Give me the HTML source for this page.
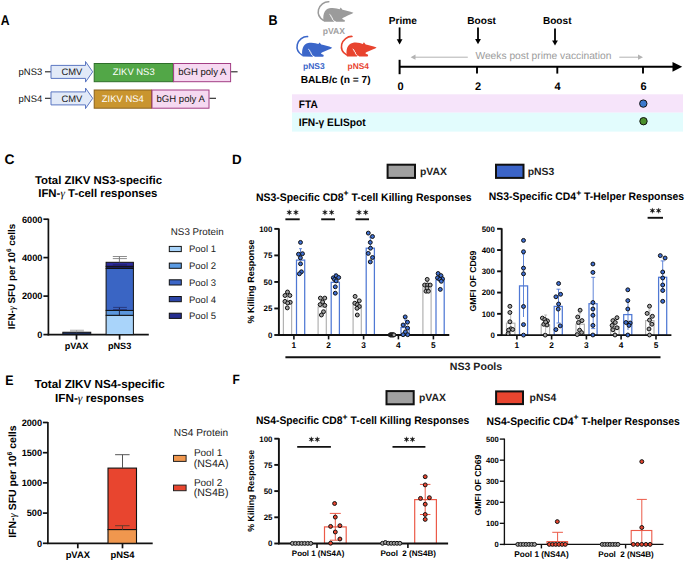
<!DOCTYPE html><html><head><meta charset="utf-8"><style>html,body{margin:0;padding:0;background:#fff;}svg{display:block;font-family:"Liberation Sans",sans-serif;text-rendering:geometricPrecision;}</style></head><body>
<svg width="685" height="561" viewBox="0 0 685 561">
<rect x="283.4" y="301.5" width="8.20" height="33.50" fill="#fff" stroke="#b2b2b2" stroke-width="1.2"/>
<rect x="296.5" y="260.1" width="8.20" height="74.90" fill="#fff" stroke="#4f78d4" stroke-width="1.25"/>
<rect x="318.1" y="307.0" width="8.20" height="28.00" fill="#fff" stroke="#b2b2b2" stroke-width="1.2"/>
<rect x="331.20000000000005" y="282.3" width="8.20" height="52.70" fill="#fff" stroke="#4f78d4" stroke-width="1.25"/>
<rect x="353.1" y="305.0" width="8.20" height="30.00" fill="#fff" stroke="#b2b2b2" stroke-width="1.2"/>
<rect x="366.20000000000005" y="248.2" width="8.20" height="86.80" fill="#fff" stroke="#4f78d4" stroke-width="1.25"/>
<rect x="401.0" y="327.5" width="8.20" height="7.50" fill="#fff" stroke="#4f78d4" stroke-width="1.25"/>
<rect x="422.9" y="284.4" width="8.20" height="50.60" fill="#fff" stroke="#b2b2b2" stroke-width="1.2"/>
<rect x="436.0" y="280.0" width="8.20" height="55.00" fill="#fff" stroke="#4f78d4" stroke-width="1.25"/>
<rect x="506.5" y="323.2" width="8.40" height="11.90" fill="#fff" stroke="#b2b2b2" stroke-width="1.2"/>
<rect x="519.5" y="285.9" width="8.10" height="49.20" fill="#fff" stroke="#4f78d4" stroke-width="1.25"/>
<rect x="541.2" y="324.9" width="8.40" height="10.20" fill="#fff" stroke="#b2b2b2" stroke-width="1.2"/>
<rect x="554.2" y="306.4" width="8.10" height="28.70" fill="#fff" stroke="#4f78d4" stroke-width="1.25"/>
<rect x="576.0" y="324.2" width="8.40" height="10.90" fill="#fff" stroke="#b2b2b2" stroke-width="1.2"/>
<rect x="589.0" y="303.7" width="8.10" height="31.40" fill="#fff" stroke="#4f78d4" stroke-width="1.25"/>
<rect x="610.7" y="326.6" width="8.40" height="8.50" fill="#fff" stroke="#b2b2b2" stroke-width="1.2"/>
<rect x="623.7" y="314.6" width="8.10" height="20.50" fill="#fff" stroke="#4f78d4" stroke-width="1.25"/>
<rect x="645.6" y="320.6" width="8.40" height="14.50" fill="#fff" stroke="#b2b2b2" stroke-width="1.2"/>
<rect x="658.6" y="277.3" width="8.10" height="57.80" fill="#fff" stroke="#4f78d4" stroke-width="1.25"/>
<rect x="324.5" y="526.9" width="21.70" height="16.60" fill="#fff" stroke="#ec5a48" stroke-width="1.2"/>
<rect x="414.7" y="499.6" width="21.70" height="43.90" fill="#fff" stroke="#ec5a48" stroke-width="1.2"/>
<rect x="547.0" y="541.6" width="20.60" height="2.80" fill="#fff" stroke="#ec5a48" stroke-width="1.1"/>
<rect x="631.2" y="530.5" width="20.60" height="13.90" fill="#fff" stroke="#ec5a48" stroke-width="1.1"/>
<text x="0.7" y="24.8" font-size="14.2" font-weight="bold" transform="translate(0.7 24.8) scale(0.86 1) translate(-0.7 -24.8)">A</text>
<text x="268.5" y="25.4" font-size="14.2" font-weight="bold" transform="translate(268.5 25.4) scale(0.88 1) translate(-268.5 -25.4)">B</text>
<text x="4.4" y="163.9" font-size="13.8" font-weight="bold" transform="translate(4.4 163.9) scale(1.0 1) translate(-4.4 -163.9)">C</text>
<text x="231.9" y="163.9" font-size="13.6" font-weight="bold" transform="translate(231.9 163.9) scale(0.98 1) translate(-231.9 -163.9)">D</text>
<text x="5.3" y="384.7" font-size="13.8" font-weight="bold" transform="translate(5.3 384.7) scale(0.9 1) translate(-5.3 -384.7)">E</text>
<text x="232.4" y="384.3" font-size="13.6" font-weight="bold" transform="translate(232.4 384.3) scale(0.88 1) translate(-232.4 -384.3)">F</text>
<text x="18.6" y="75.39999999999999" font-size="9.45" fill="#111" text-anchor="start" >pNS3</text>
<line x1="45" y1="71.8" x2="51" y2="71.8" stroke="#222" stroke-width="1.1"/>
<path d="M51 65.39999999999999 H85.5 V61.5 L92.7 71.8 L85.5 82.1 V78.39999999999999 H51 Z" fill="#e2eaf8" stroke="#5b77c2" stroke-width="1"/>
<text x="71.9" y="75.2" font-size="9.4" fill="#151515" text-anchor="middle" >CMV</text>
<rect x="94.2" y="63.5" width="79" height="18.2" fill="#52a747" stroke="#2e6e2a" stroke-width="1"/>
<text x="133.7" y="75.3" font-size="9.45" fill="#fff" text-anchor="middle" >ZIKV NS3</text>
<rect x="173.6" y="63.5" width="57" height="18.2" fill="#f6d9f1" stroke="#a23d84" stroke-width="1"/>
<text x="202.29999999999998" y="75.3" font-size="9.55" fill="#151515" text-anchor="middle" >bGH poly A</text>
<line x1="231.1" y1="71.8" x2="237.6" y2="71.8" stroke="#222" stroke-width="1.1"/>
<text x="18.6" y="101.89999999999999" font-size="9.45" fill="#111" text-anchor="start" >pNS4</text>
<line x1="45" y1="98.3" x2="51" y2="98.3" stroke="#222" stroke-width="1.1"/>
<path d="M51 91.89999999999999 H85.5 V88.0 L92.7 98.3 L85.5 108.6 V104.89999999999999 H51 Z" fill="#e2eaf8" stroke="#5b77c2" stroke-width="1"/>
<text x="71.9" y="101.7" font-size="9.4" fill="#151515" text-anchor="middle" >CMV</text>
<rect x="94.2" y="90.0" width="57.3" height="18.2" fill="#c9952f" stroke="#8a611c" stroke-width="1"/>
<text x="122.85" y="101.8" font-size="9.45" fill="#fff" text-anchor="middle" >ZIKV NS4</text>
<rect x="152" y="90.0" width="57" height="18.2" fill="#f6d9f1" stroke="#a23d84" stroke-width="1"/>
<text x="180.7" y="101.8" font-size="9.55" fill="#151515" text-anchor="middle" >bGH poly A</text>
<line x1="209.5" y1="98.3" x2="216" y2="98.3" stroke="#222" stroke-width="1.1"/>
<g transform="translate(313.2 -2.85)"><path d="M15.6 4.6 C11 4.4 6.6 7.8 5.3 12.5 C4.4 16.5 5.9 20.6 10.2 23.1" fill="none" stroke="#9b9b9b" stroke-width="1.55" stroke-linecap="round"/><path d="M10.6 24.6 C9.9 22.8 9.8 18.5 10.8 16 C11.8 13.2 14 11.5 16.1 11.1 C18.5 10.5 21.5 10.7 23.5 11.3 L26.4 12.1 L27.5 10.4 L29.3 12.6 C32 13.2 36.5 14 40.2 15.7 C38.8 16.9 35.3 18.2 32.2 19.5 C30.5 20.2 29.2 20.8 28.9 21.3 C29.2 22.2 30.6 22.4 31.3 22.8 C31.9 23.2 31.9 24.3 31.1 24.7 L22.9 24.7 L21.6 23.7 L20.4 24.7 Z" fill="#9b9b9b"/><path d="M16.3 17.2 L17.6 18.2 L17.9 19.7 L18.9 20.4 L19.2 22 L20.9 23.8" fill="none" stroke="#fff" stroke-width="0.95"/></g>
<g transform="translate(292 32)"><path d="M15.6 4.6 C11 4.4 6.6 7.8 5.3 12.5 C4.4 16.5 5.9 20.6 10.2 23.1" fill="none" stroke="#3b66c9" stroke-width="1.55" stroke-linecap="round"/><path d="M10.6 24.6 C9.9 22.8 9.8 18.5 10.8 16 C11.8 13.2 14 11.5 16.1 11.1 C18.5 10.5 21.5 10.7 23.5 11.3 L26.4 12.1 L27.5 10.4 L29.3 12.6 C32 13.2 36.5 14 40.2 15.7 C38.8 16.9 35.3 18.2 32.2 19.5 C30.5 20.2 29.2 20.8 28.9 21.3 C29.2 22.2 30.6 22.4 31.3 22.8 C31.9 23.2 31.9 24.3 31.1 24.7 L22.9 24.7 L21.6 23.7 L20.4 24.7 Z" fill="#3b66c9"/><path d="M16.3 17.2 L17.6 18.2 L17.9 19.7 L18.9 20.4 L19.2 22 L20.9 23.8" fill="none" stroke="#fff" stroke-width="0.95"/></g>
<g transform="translate(336.4 31.8)"><path d="M15.6 4.6 C11 4.4 6.6 7.8 5.3 12.5 C4.4 16.5 5.9 20.6 10.2 23.1" fill="none" stroke="#e8432e" stroke-width="1.55" stroke-linecap="round"/><path d="M10.6 24.6 C9.9 22.8 9.8 18.5 10.8 16 C11.8 13.2 14 11.5 16.1 11.1 C18.5 10.5 21.5 10.7 23.5 11.3 L26.4 12.1 L27.5 10.4 L29.3 12.6 C32 13.2 36.5 14 40.2 15.7 C38.8 16.9 35.3 18.2 32.2 19.5 C30.5 20.2 29.2 20.8 28.9 21.3 C29.2 22.2 30.6 22.4 31.3 22.8 C31.9 23.2 31.9 24.3 31.1 24.7 L22.9 24.7 L21.6 23.7 L20.4 24.7 Z" fill="#e8432e"/><path d="M16.3 17.2 L17.6 18.2 L17.9 19.7 L18.9 20.4 L19.2 22 L20.9 23.8" fill="none" stroke="#fff" stroke-width="0.95"/></g>
<text x="333.8" y="33.7" font-size="8.6" font-weight="bold" fill="#a0a0a0" text-anchor="middle" >pVAX</text>
<text x="313.9" y="68.6" font-size="8.5" font-weight="bold" fill="#3b66c9" text-anchor="middle" >pNS3</text>
<text x="358.3" y="68.8" font-size="8.4" font-weight="bold" fill="#e8432e" text-anchor="middle" >pNS4</text>
<text x="335.6" y="83.4" font-size="10.2" font-weight="bold" fill="#000" text-anchor="middle" >BALB/c (n = 7)</text>
<rect x="292" y="94.3" width="391" height="18.4" fill="#f6e4fa"/>
<rect x="292" y="112.7" width="391" height="18.9" fill="#e2fcfd"/>
<text x="298.8" y="107.6" font-size="10.1" font-weight="bold" fill="#000" text-anchor="start" transform="translate(298.8 107.6) scale(1 1.08) translate(-298.8 -107.6)">FTA</text>
<text x="298.8" y="125.9" font-size="10.2" font-weight="bold" fill="#000" text-anchor="start" transform="translate(298.8 125.9) scale(1 1.06) translate(-298.8 -125.9)">IFN-γ ELISpot</text>
<circle cx="643.3" cy="103.6" r="3.7" fill="#3b78cc" stroke="#111" stroke-width="1"/>
<circle cx="643.5" cy="121.2" r="3.7" fill="#4b8f2c" stroke="#111" stroke-width="1"/>
<line x1="399.6" y1="66.8" x2="674" y2="66.8" stroke="#000" stroke-width="2.1"/>
<polygon points="672.5,61.9 682.2,66.8 672.5,71.7" fill="#000"/>
<line x1="399.6" y1="59.8" x2="399.6" y2="74.2" stroke="#000" stroke-width="2"/>
<line x1="477" y1="66.8" x2="477" y2="73.6" stroke="#000" stroke-width="1.9"/>
<line x1="557.3" y1="66.8" x2="557.3" y2="73.6" stroke="#000" stroke-width="1.9"/>
<line x1="643" y1="66.8" x2="643" y2="73.6" stroke="#000" stroke-width="1.9"/>
<text x="400.6" y="89.5" font-size="11" font-weight="bold" fill="#000" text-anchor="middle" >0</text>
<text x="478" y="89.5" font-size="11" font-weight="bold" fill="#000" text-anchor="middle" >2</text>
<text x="557.6" y="89.5" font-size="11" font-weight="bold" fill="#000" text-anchor="middle" >4</text>
<text x="643.5" y="89.5" font-size="11" font-weight="bold" fill="#000" text-anchor="middle" >6</text>
<text x="388.8" y="23.8" font-size="10.1" font-weight="bold" fill="#000" text-anchor="start" >Prime</text>
<text x="467.3" y="23.8" font-size="10.1" font-weight="bold" fill="#000" text-anchor="start" >Boost</text>
<text x="542.9" y="23.8" font-size="10.1" font-weight="bold" fill="#000" text-anchor="start" >Boost</text>
<line x1="399.6" y1="27.4" x2="399.6" y2="40.4" stroke="#000" stroke-width="1.8"/>
<polygon points="396.70000000000005,39.199999999999996 402.5,39.199999999999996 399.6,44.4" fill="#000"/>
<line x1="478" y1="27.4" x2="478" y2="40.2" stroke="#000" stroke-width="1.8"/>
<polygon points="475.1,39.0 480.9,39.0 478,44.2" fill="#000"/>
<line x1="555" y1="28.6" x2="555" y2="41.6" stroke="#000" stroke-width="1.8"/>
<polygon points="552.1,40.4 557.9,40.4 555,45.6" fill="#000"/>
<line x1="467.8" y1="57.2" x2="414" y2="57.2" stroke="#b3b3b3" stroke-width="1"/>
<polygon points="415.5,54.6 410.6,57.2 415.5,59.8" fill="#b3b3b3"/>
<line x1="619.3" y1="57.2" x2="639" y2="57.2" stroke="#b3b3b3" stroke-width="1"/>
<polygon points="638,54.6 643,57.2 638,59.8" fill="#b3b3b3"/>
<text x="475.4" y="58.6" font-size="10.25" fill="#9c9c9c" text-anchor="start" >Weeks post prime vaccination</text>
<text x="98.5" y="183.9" font-size="11.4" font-weight="bold" fill="#000" text-anchor="middle" >Total ZIKV NS3-specific</text>
<text x="97.8" y="197.2" font-size="11.4" font-weight="bold" fill="#000" text-anchor="middle" >IFN-<tspan font-family="Liberation Serif" font-style="italic" font-weight="normal">γ</tspan> T-cell responses</text>
<line x1="48.4" y1="218.7" x2="48.4" y2="335.40000000000003" stroke="#111" stroke-width="1.7"/>
<line x1="47.6" y1="334.6" x2="148.8" y2="334.6" stroke="#111" stroke-width="1.7"/>
<line x1="43.4" y1="219.2" x2="48.4" y2="219.2" stroke="#111" stroke-width="1.7"/>
<text x="42.4" y="222.512" font-size="9.2" font-weight="bold" fill="#000" text-anchor="end" >6000</text>
<line x1="43.4" y1="257.6" x2="48.4" y2="257.6" stroke="#111" stroke-width="1.7"/>
<text x="42.4" y="260.91200000000003" font-size="9.2" font-weight="bold" fill="#000" text-anchor="end" >4000</text>
<line x1="43.4" y1="296.1" x2="48.4" y2="296.1" stroke="#111" stroke-width="1.7"/>
<text x="42.4" y="299.41200000000003" font-size="9.2" font-weight="bold" fill="#000" text-anchor="end" >2000</text>
<line x1="43.4" y1="334.6" x2="48.4" y2="334.6" stroke="#111" stroke-width="1.7"/>
<text x="42.4" y="337.91200000000003" font-size="9.2" font-weight="bold" fill="#000" text-anchor="end" >0</text>
<line x1="76.5" y1="334.6" x2="76.5" y2="339.6" stroke="#111" stroke-width="1.7"/>
<line x1="119.6" y1="334.6" x2="119.6" y2="339.6" stroke="#111" stroke-width="1.7"/>
<text x="76.5" y="348.7" font-size="9.1" font-weight="bold" fill="#000" text-anchor="middle" >pVAX</text>
<text x="119.6" y="348.7" font-size="9.1" font-weight="bold" fill="#000" text-anchor="middle" >pNS3</text>
<text x="0" y="0" font-size="9.85" font-weight="bold" text-anchor="middle" transform="translate(14.8 276.5) rotate(-90)">IFN-<tspan font-family="Liberation Serif" font-style="italic" font-weight="normal">γ</tspan> SFU per 10<tspan dy="-3.5" font-size="6.5">6</tspan><tspan dy="3.5"> cells</tspan></text>
<rect x="62.8" y="332.2" width="28" height="2.4" fill="#1c2c55" stroke="#111" stroke-width="0.9"/>
<line x1="70" y1="330.2" x2="83.9" y2="330.2" stroke="#9a9a9a" stroke-width="0.7"/>
<line x1="70" y1="331.2" x2="83.9" y2="331.2" stroke="#9a9a9a" stroke-width="0.7"/>
<line x1="76.5" y1="330.2" x2="76.5" y2="332.2" stroke="#9a9a9a" stroke-width="0.8"/>
<rect x="106.1" y="315.3" width="27.3" height="19.30" fill="#a9d4fa" stroke="#111" stroke-width="1"/>
<rect x="106.1" y="310.4" width="27.3" height="4.90" fill="#5b97de" stroke="#111" stroke-width="1"/>
<rect x="106.1" y="268.4" width="27.3" height="42.00" fill="#3a65c4" stroke="#111" stroke-width="1"/>
<rect x="106.1" y="266.3" width="27.3" height="2.10" fill="#1b1f5e" stroke="#111" stroke-width="1"/>
<rect x="106.1" y="262.3" width="27.3" height="4.00" fill="#2c2b9c" stroke="#111" stroke-width="1"/>
<line x1="119.4" y1="256.5" x2="119.4" y2="262.3" stroke="#666" stroke-width="0.9"/>
<line x1="112.8" y1="256.5" x2="126.9" y2="256.5" stroke="#7a7a7a" stroke-width="0.85"/>
<line x1="112.8" y1="258.6" x2="126.9" y2="258.6" stroke="#7a7a7a" stroke-width="0.85"/>
<line x1="112.8" y1="264.5" x2="126.9" y2="264.5" stroke="#1e1e6a" stroke-width="0.7"/>
<line x1="112.8" y1="265.6" x2="126.9" y2="265.6" stroke="#1e1e6a" stroke-width="0.7"/>
<line x1="119.4" y1="307.4" x2="119.4" y2="315.2" stroke="#1a1a3a" stroke-width="0.9"/>
<line x1="113.1" y1="307.4" x2="126.9" y2="307.4" stroke="#243070" stroke-width="0.8"/>
<line x1="113.1" y1="309.5" x2="126.9" y2="309.5" stroke="#243070" stroke-width="0.8"/>
<text x="170.8" y="235.3" font-size="9.8" fill="#222" text-anchor="start" >NS3 Protein</text>
<rect x="169.3" y="246.4" width="12" height="5.2" fill="#a9d4fa" stroke="#111" stroke-width="1"/>
<text x="189" y="252.4" font-size="9.5" fill="#222" text-anchor="start" >Pool 1</text>
<rect x="169.3" y="263.1" width="12" height="5.2" fill="#5b9be3" stroke="#111" stroke-width="1"/>
<text x="189" y="269.09999999999997" font-size="9.5" fill="#222" text-anchor="start" >Pool 2</text>
<rect x="169.3" y="279.8" width="12" height="5.2" fill="#3c66c7" stroke="#111" stroke-width="1"/>
<text x="189" y="285.79999999999995" font-size="9.5" fill="#222" text-anchor="start" >Pool 3</text>
<rect x="169.3" y="296.5" width="12" height="5.2" fill="#2c45a6" stroke="#111" stroke-width="1"/>
<text x="189" y="302.5" font-size="9.5" fill="#222" text-anchor="start" >Pool 4</text>
<rect x="169.3" y="313.2" width="12" height="5.2" fill="#262e90" stroke="#111" stroke-width="1"/>
<text x="189" y="319.2" font-size="9.5" fill="#222" text-anchor="start" >Pool 5</text>
<text x="99.6" y="387.9" font-size="11.7" font-weight="bold" fill="#000" text-anchor="middle" >Total ZIKV NS4-specific</text>
<text x="99.6" y="402.3" font-size="11.7" font-weight="bold" fill="#000" text-anchor="middle" >IFN-<tspan font-family="Liberation Serif" font-style="italic" font-weight="normal">γ</tspan> responses</text>
<line x1="47.9" y1="422.0" x2="47.9" y2="544.0999999999999" stroke="#111" stroke-width="1.7"/>
<line x1="47.1" y1="543.3" x2="152.7" y2="543.3" stroke="#111" stroke-width="1.7"/>
<line x1="42.9" y1="422.5" x2="47.9" y2="422.5" stroke="#111" stroke-width="1.7"/>
<text x="42.1" y="425.812" font-size="9.2" font-weight="bold" fill="#000" text-anchor="end" >2000</text>
<line x1="42.9" y1="452.7" x2="47.9" y2="452.7" stroke="#111" stroke-width="1.7"/>
<text x="42.1" y="456.012" font-size="9.2" font-weight="bold" fill="#000" text-anchor="end" >1500</text>
<line x1="42.9" y1="482.9" x2="47.9" y2="482.9" stroke="#111" stroke-width="1.7"/>
<text x="42.1" y="486.212" font-size="9.2" font-weight="bold" fill="#000" text-anchor="end" >1000</text>
<line x1="42.9" y1="513.1" x2="47.9" y2="513.1" stroke="#111" stroke-width="1.7"/>
<text x="42.1" y="516.412" font-size="9.2" font-weight="bold" fill="#000" text-anchor="end" >500</text>
<line x1="42.9" y1="543.3" x2="47.9" y2="543.3" stroke="#111" stroke-width="1.7"/>
<text x="42.1" y="546.612" font-size="9.2" font-weight="bold" fill="#000" text-anchor="end" >0</text>
<line x1="77.8" y1="543.3" x2="77.8" y2="548.3" stroke="#111" stroke-width="1.7"/>
<line x1="122.5" y1="543.3" x2="122.5" y2="548.3" stroke="#111" stroke-width="1.7"/>
<text x="77.8" y="558.3" font-size="9.4" font-weight="bold" fill="#000" text-anchor="middle" >pVAX</text>
<text x="122.5" y="558.3" font-size="9.4" font-weight="bold" fill="#000" text-anchor="middle" >pNS4</text>
<text x="0" y="0" font-size="10.5" font-weight="bold" text-anchor="middle" transform="translate(15.5 481.6) rotate(-90)">IFN-<tspan font-family="Liberation Serif" font-style="italic" font-weight="normal">γ</tspan> SFU per 10<tspan dy="-3.7" font-size="6.8">6</tspan><tspan dy="3.7"> cells</tspan></text>
<rect x="108" y="468.1" width="28.5" height="61.5" fill="#e8452f" stroke="#111" stroke-width="1.1"/>
<rect x="108" y="529.6" width="28.5" height="13.7" fill="#f0974e" stroke="#111" stroke-width="1.1"/>
<line x1="122.5" y1="454.7" x2="122.5" y2="468.1" stroke="#555" stroke-width="1"/>
<line x1="115.1" y1="454.7" x2="129.6" y2="454.7" stroke="#555" stroke-width="1"/>
<line x1="122.5" y1="525.7" x2="122.5" y2="529.6" stroke="#6b3a2a" stroke-width="1"/>
<line x1="115.1" y1="525.7" x2="129.6" y2="525.7" stroke="#6b3a2a" stroke-width="1"/>
<text x="173.8" y="436.4" font-size="10.1" fill="#222" text-anchor="start" >NS4 Protein</text>
<rect x="173.5" y="455.4" width="12.6" height="6" fill="#f0974e" stroke="#222" stroke-width="1"/>
<rect x="173.5" y="485.1" width="12.6" height="5.6" fill="#e8452f" stroke="#222" stroke-width="1"/>
<text x="193.9" y="455.7" font-size="10" fill="#222" text-anchor="start" >Pool 1</text>
<text x="193.7" y="467.0" font-size="10.6" fill="#222" text-anchor="start" >(NS4A)</text>
<text x="193.9" y="485.6" font-size="10" fill="#222" text-anchor="start" >Pool 2</text>
<text x="193.7" y="496.4" font-size="10.6" fill="#222" text-anchor="start" >(NS4B)</text>
<rect x="387.6" y="164.7" width="27.399999999999977" height="13.200000000000017" fill="#a0a0a0" stroke="#111" stroke-width="2"/>
<text x="420" y="174.6" font-size="10.4" font-weight="bold" fill="#222" text-anchor="start" >pVAX</text>
<rect x="496" y="164.7" width="27.5" height="13.200000000000017" fill="#3b64c8" stroke="#111" stroke-width="2"/>
<text x="527.7" y="174.6" font-size="10.4" font-weight="bold" fill="#222" text-anchor="start" >pNS3</text>
<text x="256" y="200.5" font-size="10.45" font-weight="bold" transform="translate(256 200.5) scale(1 1.06) translate(-256 -200.5)">NS3-Specific CD8<tspan dy="-4.3" font-size="8.6">+</tspan><tspan dy="4.3"> T-cell Killing Responses</tspan></text>
<text x="488.8" y="200.4" font-size="10.42" font-weight="bold" transform="translate(488.8 200.4) scale(1 1.06) translate(-488.8 -200.4)">NS3-Specific CD4<tspan dy="-4.3" font-size="8.6">+</tspan><tspan dy="4.3"> T-Helper Responses</tspan></text>
<line x1="278.9" y1="228.38" x2="278.9" y2="335.8" stroke="#111" stroke-width="1.9"/>
<line x1="278.09999999999997" y1="335.0" x2="449.3" y2="335.0" stroke="#111" stroke-width="1.9"/>
<line x1="274.29999999999995" y1="228.88" x2="278.9" y2="228.88" stroke="#111" stroke-width="1.9"/>
<text x="272.29999999999995" y="231.724" font-size="7.9" font-weight="bold" fill="#000" text-anchor="end" >100</text>
<line x1="274.29999999999995" y1="255.41000000000003" x2="278.9" y2="255.41000000000003" stroke="#111" stroke-width="1.9"/>
<text x="272.29999999999995" y="258.254" font-size="7.9" font-weight="bold" fill="#000" text-anchor="end" >75</text>
<line x1="274.29999999999995" y1="281.94" x2="278.9" y2="281.94" stroke="#111" stroke-width="1.9"/>
<text x="272.29999999999995" y="284.784" font-size="7.9" font-weight="bold" fill="#000" text-anchor="end" >50</text>
<line x1="274.29999999999995" y1="308.47" x2="278.9" y2="308.47" stroke="#111" stroke-width="1.9"/>
<text x="272.29999999999995" y="311.314" font-size="7.9" font-weight="bold" fill="#000" text-anchor="end" >25</text>
<line x1="274.29999999999995" y1="335.0" x2="278.9" y2="335.0" stroke="#111" stroke-width="1.9"/>
<text x="272.29999999999995" y="337.844" font-size="7.9" font-weight="bold" fill="#000" text-anchor="end" >0</text>
<line x1="293.9" y1="335.0" x2="293.9" y2="339.4" stroke="#111" stroke-width="1.6"/>
<text x="293.9" y="348.2" font-size="8.3" font-weight="bold" fill="#000" text-anchor="middle" >1</text>
<line x1="328.6" y1="335.0" x2="328.6" y2="339.4" stroke="#111" stroke-width="1.6"/>
<text x="328.6" y="348.2" font-size="8.3" font-weight="bold" fill="#000" text-anchor="middle" >2</text>
<line x1="363.6" y1="335.0" x2="363.6" y2="339.4" stroke="#111" stroke-width="1.6"/>
<text x="363.6" y="348.2" font-size="8.3" font-weight="bold" fill="#000" text-anchor="middle" >3</text>
<line x1="398.4" y1="335.0" x2="398.4" y2="339.4" stroke="#111" stroke-width="1.6"/>
<text x="398.4" y="348.2" font-size="8.3" font-weight="bold" fill="#000" text-anchor="middle" >4</text>
<line x1="433.4" y1="335.0" x2="433.4" y2="339.4" stroke="#111" stroke-width="1.6"/>
<text x="433.4" y="348.2" font-size="8.3" font-weight="bold" fill="#000" text-anchor="middle" >5</text>
<text x="0" y="0" font-size="9.05" font-weight="bold" text-anchor="middle" transform="translate(253.7 281.6) rotate(-90)">% Killing Response</text>
<line x1="300.5" y1="248.7" x2="300.5" y2="260.1" stroke="#4f78d4" stroke-width="0.9"/>
<line x1="299.0" y1="248.7" x2="302.0" y2="248.7" stroke="#4f78d4" stroke-width="0.9"/>
<line x1="335.4" y1="274.0" x2="335.4" y2="282.3" stroke="#4f78d4" stroke-width="0.9"/>
<line x1="333.9" y1="274.0" x2="336.9" y2="274.0" stroke="#4f78d4" stroke-width="0.9"/>
<line x1="370.4" y1="237.0" x2="370.4" y2="248.2" stroke="#4f78d4" stroke-width="0.9"/>
<line x1="368.9" y1="237.0" x2="371.9" y2="237.0" stroke="#4f78d4" stroke-width="0.9"/>
<line x1="405.5" y1="320.0" x2="405.5" y2="327.5" stroke="#4f78d4" stroke-width="0.9"/>
<line x1="404.0" y1="320.0" x2="407.0" y2="320.0" stroke="#4f78d4" stroke-width="0.9"/>
<line x1="440.3" y1="276.0" x2="440.3" y2="280.0" stroke="#4f78d4" stroke-width="0.9"/>
<line x1="438.8" y1="276.0" x2="441.8" y2="276.0" stroke="#4f78d4" stroke-width="0.9"/>
<line x1="287.6" y1="296.0" x2="287.6" y2="301.5" stroke="#b2b2b2" stroke-width="0.9"/>
<line x1="286.1" y1="296.0" x2="289.1" y2="296.0" stroke="#b2b2b2" stroke-width="0.9"/>
<line x1="322.7" y1="300.0" x2="322.7" y2="307.0" stroke="#b2b2b2" stroke-width="0.9"/>
<line x1="321.2" y1="300.0" x2="324.2" y2="300.0" stroke="#b2b2b2" stroke-width="0.9"/>
<line x1="357.5" y1="299.0" x2="357.5" y2="305.0" stroke="#b2b2b2" stroke-width="0.9"/>
<line x1="356.0" y1="299.0" x2="359.0" y2="299.0" stroke="#b2b2b2" stroke-width="0.9"/>
<line x1="427.2" y1="281.5" x2="427.2" y2="284.4" stroke="#b2b2b2" stroke-width="0.9"/>
<line x1="425.7" y1="281.5" x2="428.7" y2="281.5" stroke="#b2b2b2" stroke-width="0.9"/>
<circle cx="287.5" cy="292.0" r="1.95" fill="#a3a3a3" stroke="#111" stroke-width="1.0"/>
<circle cx="285.0" cy="295.5" r="1.95" fill="#a3a3a3" stroke="#111" stroke-width="1.0"/>
<circle cx="289.9" cy="295.5" r="1.95" fill="#a3a3a3" stroke="#111" stroke-width="1.0"/>
<circle cx="285.0" cy="301.4" r="1.95" fill="#a3a3a3" stroke="#111" stroke-width="1.0"/>
<circle cx="290.2" cy="302.3" r="1.95" fill="#a3a3a3" stroke="#111" stroke-width="1.0"/>
<circle cx="287.7" cy="303.0" r="1.95" fill="#a3a3a3" stroke="#111" stroke-width="1.0"/>
<circle cx="287.3" cy="307.9" r="1.95" fill="#a3a3a3" stroke="#111" stroke-width="1.0"/>
<circle cx="320.4" cy="298.1" r="1.95" fill="#a3a3a3" stroke="#111" stroke-width="1.0"/>
<circle cx="324.8" cy="298.1" r="1.95" fill="#a3a3a3" stroke="#111" stroke-width="1.0"/>
<circle cx="322.6" cy="302.0" r="1.95" fill="#a3a3a3" stroke="#111" stroke-width="1.0"/>
<circle cx="320.1" cy="304.6" r="1.95" fill="#a3a3a3" stroke="#111" stroke-width="1.0"/>
<circle cx="324.8" cy="305.4" r="1.95" fill="#a3a3a3" stroke="#111" stroke-width="1.0"/>
<circle cx="323.5" cy="311.7" r="1.95" fill="#a3a3a3" stroke="#111" stroke-width="1.0"/>
<circle cx="321.4" cy="315.0" r="1.95" fill="#a3a3a3" stroke="#111" stroke-width="1.0"/>
<circle cx="355.1" cy="296.4" r="1.95" fill="#a3a3a3" stroke="#111" stroke-width="1.0"/>
<circle cx="359.3" cy="300.8" r="1.95" fill="#a3a3a3" stroke="#111" stroke-width="1.0"/>
<circle cx="354.8" cy="303.2" r="1.95" fill="#a3a3a3" stroke="#111" stroke-width="1.0"/>
<circle cx="357.3" cy="304.6" r="1.95" fill="#a3a3a3" stroke="#111" stroke-width="1.0"/>
<circle cx="359.3" cy="306.6" r="1.95" fill="#a3a3a3" stroke="#111" stroke-width="1.0"/>
<circle cx="357.0" cy="308.3" r="1.95" fill="#a3a3a3" stroke="#111" stroke-width="1.0"/>
<circle cx="357.3" cy="315.0" r="1.95" fill="#a3a3a3" stroke="#111" stroke-width="1.0"/>
<circle cx="390.2" cy="334.9" r="1.95" fill="#a3a3a3" stroke="#111" stroke-width="1.0"/>
<circle cx="390.8" cy="334.9" r="1.95" fill="#a3a3a3" stroke="#111" stroke-width="1.0"/>
<circle cx="391.5" cy="334.9" r="1.95" fill="#a3a3a3" stroke="#111" stroke-width="1.0"/>
<circle cx="392.1" cy="334.9" r="1.95" fill="#a3a3a3" stroke="#111" stroke-width="1.0"/>
<circle cx="392.7" cy="334.9" r="1.95" fill="#a3a3a3" stroke="#111" stroke-width="1.0"/>
<circle cx="393.3" cy="334.9" r="1.95" fill="#a3a3a3" stroke="#111" stroke-width="1.0"/>
<circle cx="394.0" cy="334.9" r="1.95" fill="#a3a3a3" stroke="#111" stroke-width="1.0"/>
<circle cx="427.2" cy="279.4" r="1.95" fill="#a3a3a3" stroke="#111" stroke-width="1.0"/>
<circle cx="424.7" cy="285.0" r="1.95" fill="#a3a3a3" stroke="#111" stroke-width="1.0"/>
<circle cx="427.6" cy="285.0" r="1.95" fill="#a3a3a3" stroke="#111" stroke-width="1.0"/>
<circle cx="430.2" cy="285.0" r="1.95" fill="#a3a3a3" stroke="#111" stroke-width="1.0"/>
<circle cx="426.0" cy="291.2" r="1.95" fill="#a3a3a3" stroke="#111" stroke-width="1.0"/>
<circle cx="428.4" cy="291.2" r="1.95" fill="#a3a3a3" stroke="#111" stroke-width="1.0"/>
<circle cx="427.0" cy="288.0" r="1.95" fill="#a3a3a3" stroke="#111" stroke-width="1.0"/>
<circle cx="300.5" cy="242.4" r="1.95" fill="#3f6fd2" stroke="#111" stroke-width="1.0"/>
<circle cx="298.5" cy="254.2" r="1.95" fill="#3f6fd2" stroke="#111" stroke-width="1.0"/>
<circle cx="302.5" cy="253.7" r="1.95" fill="#3f6fd2" stroke="#111" stroke-width="1.0"/>
<circle cx="300.4" cy="257.8" r="1.95" fill="#3f6fd2" stroke="#111" stroke-width="1.0"/>
<circle cx="300.5" cy="263.8" r="1.95" fill="#3f6fd2" stroke="#111" stroke-width="1.0"/>
<circle cx="301.4" cy="271.8" r="1.95" fill="#3f6fd2" stroke="#111" stroke-width="1.0"/>
<circle cx="299.4" cy="273.8" r="1.95" fill="#3f6fd2" stroke="#111" stroke-width="1.0"/>
<circle cx="333.3" cy="277.8" r="1.95" fill="#3f6fd2" stroke="#111" stroke-width="1.0"/>
<circle cx="336.2" cy="275.8" r="1.95" fill="#3f6fd2" stroke="#111" stroke-width="1.0"/>
<circle cx="338.7" cy="277.5" r="1.95" fill="#3f6fd2" stroke="#111" stroke-width="1.0"/>
<circle cx="334.5" cy="279.5" r="1.95" fill="#3f6fd2" stroke="#111" stroke-width="1.0"/>
<circle cx="336.2" cy="280.9" r="1.95" fill="#3f6fd2" stroke="#111" stroke-width="1.0"/>
<circle cx="335.3" cy="286.8" r="1.95" fill="#3f6fd2" stroke="#111" stroke-width="1.0"/>
<circle cx="335.3" cy="293.2" r="1.95" fill="#3f6fd2" stroke="#111" stroke-width="1.0"/>
<circle cx="368.3" cy="233.1" r="1.95" fill="#3f6fd2" stroke="#111" stroke-width="1.0"/>
<circle cx="372.5" cy="236.5" r="1.95" fill="#3f6fd2" stroke="#111" stroke-width="1.0"/>
<circle cx="370.3" cy="242.4" r="1.95" fill="#3f6fd2" stroke="#111" stroke-width="1.0"/>
<circle cx="370.5" cy="248.2" r="1.95" fill="#3f6fd2" stroke="#111" stroke-width="1.0"/>
<circle cx="368.3" cy="253.4" r="1.95" fill="#3f6fd2" stroke="#111" stroke-width="1.0"/>
<circle cx="372.5" cy="257.5" r="1.95" fill="#3f6fd2" stroke="#111" stroke-width="1.0"/>
<circle cx="370.3" cy="261.9" r="1.95" fill="#3f6fd2" stroke="#111" stroke-width="1.0"/>
<circle cx="405.2" cy="316.9" r="1.95" fill="#3f6fd2" stroke="#111" stroke-width="1.0"/>
<circle cx="407.5" cy="322.2" r="1.95" fill="#3f6fd2" stroke="#111" stroke-width="1.0"/>
<circle cx="403.1" cy="325.0" r="1.95" fill="#3f6fd2" stroke="#111" stroke-width="1.0"/>
<circle cx="407.5" cy="328.1" r="1.95" fill="#3f6fd2" stroke="#111" stroke-width="1.0"/>
<circle cx="405.4" cy="331.9" r="1.95" fill="#3f6fd2" stroke="#111" stroke-width="1.0"/>
<circle cx="403.1" cy="334.7" r="1.95" fill="#3f6fd2" stroke="#111" stroke-width="1.0"/>
<circle cx="407.7" cy="334.7" r="1.95" fill="#3f6fd2" stroke="#111" stroke-width="1.0"/>
<circle cx="438.1" cy="273.5" r="1.95" fill="#3f6fd2" stroke="#111" stroke-width="1.0"/>
<circle cx="441.0" cy="275.6" r="1.95" fill="#3f6fd2" stroke="#111" stroke-width="1.0"/>
<circle cx="437.5" cy="277.8" r="1.95" fill="#3f6fd2" stroke="#111" stroke-width="1.0"/>
<circle cx="442.5" cy="278.8" r="1.95" fill="#3f6fd2" stroke="#111" stroke-width="1.0"/>
<circle cx="439.8" cy="279.4" r="1.95" fill="#3f6fd2" stroke="#111" stroke-width="1.0"/>
<circle cx="441.3" cy="281.3" r="1.95" fill="#3f6fd2" stroke="#111" stroke-width="1.0"/>
<circle cx="440.3" cy="289.4" r="1.95" fill="#3f6fd2" stroke="#111" stroke-width="1.0"/>
<polygon points="289.25,209.75 288.75,211.58 286.91,211.10 288.25,212.45 286.91,213.80 288.75,213.32 289.25,215.15 289.75,213.32 291.59,213.80 290.25,212.45 291.59,211.10 289.75,211.58" fill="#111" stroke="#111" stroke-width="0.35" stroke-linejoin="round"/>
<polygon points="295.95,209.75 295.45,211.58 293.61,211.10 294.95,212.45 293.61,213.80 295.45,213.32 295.95,215.15 296.45,213.32 298.29,213.80 296.95,212.45 298.29,211.10 296.45,211.58" fill="#111" stroke="#111" stroke-width="0.35" stroke-linejoin="round"/>
<line x1="285.4" y1="219.3" x2="299.7" y2="219.3" stroke="#111" stroke-width="1.9"/>
<polygon points="324.95,209.75 324.45,211.58 322.61,211.10 323.95,212.45 322.61,213.80 324.45,213.32 324.95,215.15 325.45,213.32 327.29,213.80 325.95,212.45 327.29,211.10 325.45,211.58" fill="#111" stroke="#111" stroke-width="0.35" stroke-linejoin="round"/>
<polygon points="331.65,209.75 331.15,211.58 329.31,211.10 330.65,212.45 329.31,213.80 331.15,213.32 331.65,215.15 332.15,213.32 333.99,213.80 332.65,212.45 333.99,211.10 332.15,211.58" fill="#111" stroke="#111" stroke-width="0.35" stroke-linejoin="round"/>
<line x1="321.2" y1="219.3" x2="335.0" y2="219.3" stroke="#111" stroke-width="1.9"/>
<polygon points="359.05,209.75 358.55,211.58 356.71,211.10 358.05,212.45 356.71,213.80 358.55,213.32 359.05,215.15 359.55,213.32 361.39,213.80 360.05,212.45 361.39,211.10 359.55,211.58" fill="#111" stroke="#111" stroke-width="0.35" stroke-linejoin="round"/>
<polygon points="365.75,209.75 365.25,211.58 363.41,211.10 364.75,212.45 363.41,213.80 365.25,213.32 365.75,215.15 366.25,213.32 368.09,213.80 366.75,212.45 368.09,211.10 366.25,211.58" fill="#111" stroke="#111" stroke-width="0.35" stroke-linejoin="round"/>
<line x1="355.5" y1="219.3" x2="369.0" y2="219.3" stroke="#111" stroke-width="1.9"/>
<line x1="501.7" y1="228.3" x2="501.7" y2="335.90000000000003" stroke="#111" stroke-width="1.9"/>
<line x1="500.9" y1="335.1" x2="671.4" y2="335.1" stroke="#111" stroke-width="1.9"/>
<line x1="497.09999999999997" y1="228.8" x2="501.7" y2="228.8" stroke="#111" stroke-width="1.9"/>
<text x="494.9" y="231.644" font-size="7.9" font-weight="bold" fill="#000" text-anchor="end" >500</text>
<line x1="497.09999999999997" y1="250.06" x2="501.7" y2="250.06" stroke="#111" stroke-width="1.9"/>
<text x="494.9" y="252.904" font-size="7.9" font-weight="bold" fill="#000" text-anchor="end" >400</text>
<line x1="497.09999999999997" y1="271.32000000000005" x2="501.7" y2="271.32000000000005" stroke="#111" stroke-width="1.9"/>
<text x="494.9" y="274.16400000000004" font-size="7.9" font-weight="bold" fill="#000" text-anchor="end" >300</text>
<line x1="497.09999999999997" y1="292.58000000000004" x2="501.7" y2="292.58000000000004" stroke="#111" stroke-width="1.9"/>
<text x="494.9" y="295.42400000000004" font-size="7.9" font-weight="bold" fill="#000" text-anchor="end" >200</text>
<line x1="497.09999999999997" y1="313.84000000000003" x2="501.7" y2="313.84000000000003" stroke="#111" stroke-width="1.9"/>
<text x="494.9" y="316.684" font-size="7.9" font-weight="bold" fill="#000" text-anchor="end" >100</text>
<line x1="497.09999999999997" y1="335.1" x2="501.7" y2="335.1" stroke="#111" stroke-width="1.9"/>
<text x="494.9" y="337.944" font-size="7.9" font-weight="bold" fill="#000" text-anchor="end" >0</text>
<line x1="516.9" y1="335.1" x2="516.9" y2="339.5" stroke="#111" stroke-width="1.6"/>
<text x="516.9" y="348.2" font-size="8.3" font-weight="bold" fill="#000" text-anchor="middle" >1</text>
<line x1="551.6" y1="335.1" x2="551.6" y2="339.5" stroke="#111" stroke-width="1.6"/>
<text x="551.6" y="348.2" font-size="8.3" font-weight="bold" fill="#000" text-anchor="middle" >2</text>
<line x1="586.4" y1="335.1" x2="586.4" y2="339.5" stroke="#111" stroke-width="1.6"/>
<text x="586.4" y="348.2" font-size="8.3" font-weight="bold" fill="#000" text-anchor="middle" >3</text>
<line x1="621.1" y1="335.1" x2="621.1" y2="339.5" stroke="#111" stroke-width="1.6"/>
<text x="621.1" y="348.2" font-size="8.3" font-weight="bold" fill="#000" text-anchor="middle" >4</text>
<line x1="656.0" y1="335.1" x2="656.0" y2="339.5" stroke="#111" stroke-width="1.6"/>
<text x="656.0" y="348.2" font-size="8.3" font-weight="bold" fill="#000" text-anchor="middle" >5</text>
<text x="0" y="0" font-size="8.7" font-weight="bold" text-anchor="middle" transform="translate(475.8 281.0) rotate(-90)">GMFI OF CD69</text>
<line x1="523.5" y1="254.0" x2="523.5" y2="317.0" stroke="#4f78d4" stroke-width="0.9"/>
<line x1="522.0" y1="254.0" x2="525.0" y2="254.0" stroke="#4f78d4" stroke-width="0.9"/>
<line x1="558.5" y1="289.2" x2="558.5" y2="323.0" stroke="#4f78d4" stroke-width="0.9"/>
<line x1="556.5" y1="289.2" x2="560.5" y2="289.2" stroke="#4f78d4" stroke-width="0.9"/>
<line x1="556.5" y1="323.0" x2="560.5" y2="323.0" stroke="#4f78d4" stroke-width="0.9"/>
<line x1="593.2" y1="277.3" x2="593.2" y2="328.6" stroke="#4f78d4" stroke-width="0.9"/>
<line x1="591.2" y1="277.3" x2="595.2" y2="277.3" stroke="#4f78d4" stroke-width="0.9"/>
<line x1="591.2" y1="328.6" x2="595.2" y2="328.6" stroke="#4f78d4" stroke-width="0.9"/>
<line x1="628.0" y1="302.0" x2="628.0" y2="330.0" stroke="#4f78d4" stroke-width="0.9"/>
<line x1="662.7" y1="260.9" x2="662.7" y2="293.0" stroke="#4f78d4" stroke-width="0.9"/>
<line x1="660.7" y1="260.9" x2="664.7" y2="260.9" stroke="#4f78d4" stroke-width="0.9"/>
<line x1="510.7" y1="312.0" x2="510.7" y2="333.0" stroke="#b2b2b2" stroke-width="0.9"/>
<line x1="509.2" y1="312.0" x2="512.2" y2="312.0" stroke="#b2b2b2" stroke-width="0.9"/>
<line x1="545.6" y1="315.0" x2="545.6" y2="332.0" stroke="#b2b2b2" stroke-width="0.9"/>
<line x1="544.1" y1="315.0" x2="547.1" y2="315.0" stroke="#b2b2b2" stroke-width="0.9"/>
<line x1="579.8" y1="313.0" x2="579.8" y2="333.0" stroke="#b2b2b2" stroke-width="0.9"/>
<line x1="578.3" y1="313.0" x2="581.3" y2="313.0" stroke="#b2b2b2" stroke-width="0.9"/>
<line x1="614.9" y1="318.0" x2="614.9" y2="333.0" stroke="#b2b2b2" stroke-width="0.9"/>
<line x1="613.4" y1="318.0" x2="616.4" y2="318.0" stroke="#b2b2b2" stroke-width="0.9"/>
<line x1="649.7" y1="310.0" x2="649.7" y2="330.0" stroke="#b2b2b2" stroke-width="0.9"/>
<line x1="648.2" y1="310.0" x2="651.2" y2="310.0" stroke="#b2b2b2" stroke-width="0.9"/>
<circle cx="509.9" cy="306.3" r="1.95" fill="#a3a3a3" stroke="#111" stroke-width="1.0"/>
<circle cx="509.9" cy="312.5" r="1.95" fill="#a3a3a3" stroke="#111" stroke-width="1.0"/>
<circle cx="509.9" cy="321.8" r="1.95" fill="#a3a3a3" stroke="#111" stroke-width="1.0"/>
<circle cx="510.9" cy="328.8" r="1.95" fill="#a3a3a3" stroke="#111" stroke-width="1.0"/>
<circle cx="512.7" cy="329.5" r="1.95" fill="#a3a3a3" stroke="#111" stroke-width="1.0"/>
<circle cx="508.6" cy="330.1" r="1.95" fill="#a3a3a3" stroke="#111" stroke-width="1.0"/>
<circle cx="508.1" cy="333.6" r="1.95" fill="#a3a3a3" stroke="#111" stroke-width="1.0"/>
<circle cx="542.4" cy="318.1" r="1.95" fill="#a3a3a3" stroke="#111" stroke-width="1.0"/>
<circle cx="544.7" cy="319.5" r="1.95" fill="#a3a3a3" stroke="#111" stroke-width="1.0"/>
<circle cx="547.5" cy="320.9" r="1.95" fill="#a3a3a3" stroke="#111" stroke-width="1.0"/>
<circle cx="543.8" cy="324.3" r="1.95" fill="#a3a3a3" stroke="#111" stroke-width="1.0"/>
<circle cx="547.0" cy="325.0" r="1.95" fill="#a3a3a3" stroke="#111" stroke-width="1.0"/>
<circle cx="545.6" cy="322.0" r="1.95" fill="#a3a3a3" stroke="#111" stroke-width="1.0"/>
<circle cx="545.2" cy="335.1" r="1.95" fill="#a3a3a3" stroke="#111" stroke-width="1.0"/>
<circle cx="580.1" cy="310.2" r="1.95" fill="#a3a3a3" stroke="#111" stroke-width="1.0"/>
<circle cx="577.7" cy="317.0" r="1.95" fill="#a3a3a3" stroke="#111" stroke-width="1.0"/>
<circle cx="582.0" cy="320.6" r="1.95" fill="#a3a3a3" stroke="#111" stroke-width="1.0"/>
<circle cx="578.5" cy="322.5" r="1.95" fill="#a3a3a3" stroke="#111" stroke-width="1.0"/>
<circle cx="579.6" cy="330.2" r="1.95" fill="#a3a3a3" stroke="#111" stroke-width="1.0"/>
<circle cx="581.6" cy="332.6" r="1.95" fill="#a3a3a3" stroke="#111" stroke-width="1.0"/>
<circle cx="577.2" cy="334.6" r="1.95" fill="#a3a3a3" stroke="#111" stroke-width="1.0"/>
<circle cx="617.0" cy="317.7" r="1.95" fill="#a3a3a3" stroke="#111" stroke-width="1.0"/>
<circle cx="612.9" cy="320.6" r="1.95" fill="#a3a3a3" stroke="#111" stroke-width="1.0"/>
<circle cx="615.3" cy="322.5" r="1.95" fill="#a3a3a3" stroke="#111" stroke-width="1.0"/>
<circle cx="612.1" cy="325.4" r="1.95" fill="#a3a3a3" stroke="#111" stroke-width="1.0"/>
<circle cx="617.0" cy="327.8" r="1.95" fill="#a3a3a3" stroke="#111" stroke-width="1.0"/>
<circle cx="612.9" cy="329.8" r="1.95" fill="#a3a3a3" stroke="#111" stroke-width="1.0"/>
<circle cx="615.0" cy="335.0" r="1.95" fill="#a3a3a3" stroke="#111" stroke-width="1.0"/>
<circle cx="649.5" cy="306.2" r="1.95" fill="#a3a3a3" stroke="#111" stroke-width="1.0"/>
<circle cx="647.1" cy="313.4" r="1.95" fill="#a3a3a3" stroke="#111" stroke-width="1.0"/>
<circle cx="652.4" cy="316.3" r="1.95" fill="#a3a3a3" stroke="#111" stroke-width="1.0"/>
<circle cx="649.5" cy="320.1" r="1.95" fill="#a3a3a3" stroke="#111" stroke-width="1.0"/>
<circle cx="651.9" cy="324.2" r="1.95" fill="#a3a3a3" stroke="#111" stroke-width="1.0"/>
<circle cx="649.0" cy="329.0" r="1.95" fill="#a3a3a3" stroke="#111" stroke-width="1.0"/>
<circle cx="649.5" cy="335.0" r="1.95" fill="#a3a3a3" stroke="#111" stroke-width="1.0"/>
<circle cx="523.5" cy="240.4" r="1.95" fill="#3f6fd2" stroke="#111" stroke-width="1.0"/>
<circle cx="523.5" cy="251.7" r="1.95" fill="#3f6fd2" stroke="#111" stroke-width="1.0"/>
<circle cx="523.5" cy="268.1" r="1.95" fill="#3f6fd2" stroke="#111" stroke-width="1.0"/>
<circle cx="523.5" cy="273.8" r="1.95" fill="#3f6fd2" stroke="#111" stroke-width="1.0"/>
<circle cx="523.5" cy="306.5" r="1.95" fill="#3f6fd2" stroke="#111" stroke-width="1.0"/>
<circle cx="523.5" cy="324.6" r="1.95" fill="#3f6fd2" stroke="#111" stroke-width="1.0"/>
<circle cx="523.5" cy="335.1" r="1.95" fill="#3f6fd2" stroke="#111" stroke-width="1.0"/>
<circle cx="558.6" cy="283.5" r="1.95" fill="#3f6fd2" stroke="#111" stroke-width="1.0"/>
<circle cx="555.9" cy="296.8" r="1.95" fill="#3f6fd2" stroke="#111" stroke-width="1.0"/>
<circle cx="560.6" cy="294.3" r="1.95" fill="#3f6fd2" stroke="#111" stroke-width="1.0"/>
<circle cx="558.6" cy="304.0" r="1.95" fill="#3f6fd2" stroke="#111" stroke-width="1.0"/>
<circle cx="558.2" cy="309.1" r="1.95" fill="#3f6fd2" stroke="#111" stroke-width="1.0"/>
<circle cx="560.2" cy="325.9" r="1.95" fill="#3f6fd2" stroke="#111" stroke-width="1.0"/>
<circle cx="555.9" cy="329.6" r="1.95" fill="#3f6fd2" stroke="#111" stroke-width="1.0"/>
<circle cx="592.9" cy="264.0" r="1.95" fill="#3f6fd2" stroke="#111" stroke-width="1.0"/>
<circle cx="592.9" cy="272.4" r="1.95" fill="#3f6fd2" stroke="#111" stroke-width="1.0"/>
<circle cx="592.9" cy="302.5" r="1.95" fill="#3f6fd2" stroke="#111" stroke-width="1.0"/>
<circle cx="592.9" cy="309.0" r="1.95" fill="#3f6fd2" stroke="#111" stroke-width="1.0"/>
<circle cx="592.9" cy="315.3" r="1.95" fill="#3f6fd2" stroke="#111" stroke-width="1.0"/>
<circle cx="592.9" cy="325.4" r="1.95" fill="#3f6fd2" stroke="#111" stroke-width="1.0"/>
<circle cx="592.9" cy="335.0" r="1.95" fill="#3f6fd2" stroke="#111" stroke-width="1.0"/>
<circle cx="627.8" cy="289.8" r="1.95" fill="#3f6fd2" stroke="#111" stroke-width="1.0"/>
<circle cx="627.8" cy="300.6" r="1.95" fill="#3f6fd2" stroke="#111" stroke-width="1.0"/>
<circle cx="627.8" cy="309.0" r="1.95" fill="#3f6fd2" stroke="#111" stroke-width="1.0"/>
<circle cx="625.9" cy="322.5" r="1.95" fill="#3f6fd2" stroke="#111" stroke-width="1.0"/>
<circle cx="630.2" cy="323.0" r="1.95" fill="#3f6fd2" stroke="#111" stroke-width="1.0"/>
<circle cx="629.0" cy="325.4" r="1.95" fill="#3f6fd2" stroke="#111" stroke-width="1.0"/>
<circle cx="627.8" cy="335.0" r="1.95" fill="#3f6fd2" stroke="#111" stroke-width="1.0"/>
<circle cx="660.3" cy="255.6" r="1.95" fill="#3f6fd2" stroke="#111" stroke-width="1.0"/>
<circle cx="665.1" cy="258.0" r="1.95" fill="#3f6fd2" stroke="#111" stroke-width="1.0"/>
<circle cx="662.7" cy="272.0" r="1.95" fill="#3f6fd2" stroke="#111" stroke-width="1.0"/>
<circle cx="662.7" cy="278.0" r="1.95" fill="#3f6fd2" stroke="#111" stroke-width="1.0"/>
<circle cx="662.7" cy="285.0" r="1.95" fill="#3f6fd2" stroke="#111" stroke-width="1.0"/>
<circle cx="662.7" cy="290.5" r="1.95" fill="#3f6fd2" stroke="#111" stroke-width="1.0"/>
<circle cx="662.7" cy="301.3" r="1.95" fill="#3f6fd2" stroke="#111" stroke-width="1.0"/>
<polygon points="652.40,207.95 651.90,209.78 650.06,209.30 651.40,210.65 650.06,212.00 651.90,211.52 652.40,213.35 652.90,211.52 654.74,212.00 653.40,210.65 654.74,209.30 652.90,209.78" fill="#111" stroke="#111" stroke-width="0.35" stroke-linejoin="round"/>
<polygon points="658.60,207.95 658.10,209.78 656.26,209.30 657.60,210.65 656.26,212.00 658.10,211.52 658.60,213.35 659.10,211.52 660.94,212.00 659.60,210.65 660.94,209.30 659.10,209.78" fill="#111" stroke="#111" stroke-width="0.35" stroke-linejoin="round"/>
<line x1="647.6" y1="217.8" x2="663.0" y2="217.8" stroke="#111" stroke-width="1.9"/>
<line x1="285.4" y1="357.2" x2="660.5" y2="357.2" stroke="#111" stroke-width="1.9"/>
<text x="476.0" y="369.6" font-size="10.6" font-weight="bold" fill="#222" text-anchor="middle" >NS3 Pools</text>
<rect x="386.5" y="391.1" width="27.19999999999999" height="13.199999999999989" fill="#a0a0a0" stroke="#111" stroke-width="2"/>
<text x="419" y="401.0" font-size="10.4" font-weight="bold" fill="#222" text-anchor="start" >pVAX</text>
<rect x="496.1" y="391.4" width="26.899999999999977" height="12.700000000000045" fill="#e8452f" stroke="#111" stroke-width="2"/>
<text x="529.6" y="401.3" font-size="10.4" font-weight="bold" fill="#222" text-anchor="start" >pNS4</text>
<text x="255.9" y="424.4" font-size="10.34" font-weight="bold" transform="translate(255.9 424.4) scale(1 1.06) translate(-255.9 -424.4)">NS4-Specific CD8<tspan dy="-4.3" font-size="8.6">+</tspan><tspan dy="4.3"> T-cell Killing Responses</tspan></text>
<text x="486.6" y="424.6" font-size="10.36" font-weight="bold" transform="translate(486.6 424.6) scale(1 1.06) translate(-486.6 -424.6)">NS4-Specific CD4<tspan dy="-4.3" font-size="8.6">+</tspan><tspan dy="4.3"> T-helper Responses</tspan></text>
<line x1="278.9" y1="438.2" x2="278.9" y2="544.3" stroke="#111" stroke-width="1.9"/>
<line x1="278.09999999999997" y1="543.5" x2="448.1" y2="543.5" stroke="#111" stroke-width="1.9"/>
<line x1="274.29999999999995" y1="438.7" x2="278.9" y2="438.7" stroke="#111" stroke-width="1.9"/>
<text x="272.5" y="441.544" font-size="7.9" font-weight="bold" fill="#000" text-anchor="end" >100</text>
<line x1="274.29999999999995" y1="464.9" x2="278.9" y2="464.9" stroke="#111" stroke-width="1.9"/>
<text x="272.5" y="467.74399999999997" font-size="7.9" font-weight="bold" fill="#000" text-anchor="end" >75</text>
<line x1="274.29999999999995" y1="491.1" x2="278.9" y2="491.1" stroke="#111" stroke-width="1.9"/>
<text x="272.5" y="493.944" font-size="7.9" font-weight="bold" fill="#000" text-anchor="end" >50</text>
<line x1="274.29999999999995" y1="517.3" x2="278.9" y2="517.3" stroke="#111" stroke-width="1.9"/>
<text x="272.5" y="520.144" font-size="7.9" font-weight="bold" fill="#000" text-anchor="end" >25</text>
<line x1="274.29999999999995" y1="543.5" x2="278.9" y2="543.5" stroke="#111" stroke-width="1.9"/>
<text x="272.5" y="546.344" font-size="7.9" font-weight="bold" fill="#000" text-anchor="end" >0</text>
<line x1="317.0" y1="543.5" x2="317.0" y2="547.9" stroke="#111" stroke-width="1.6"/>
<line x1="407.9" y1="543.5" x2="407.9" y2="547.9" stroke="#111" stroke-width="1.6"/>
<text x="318.1" y="556.1" font-size="7.95" font-weight="bold" fill="#000" text-anchor="middle" >Pool 1 (NS4A)</text>
<text x="408.2" y="556.1" font-size="8.05" font-weight="bold" fill="#000" text-anchor="middle" xml:space="preserve">Pool  2 (NS4B)</text>
<text x="0" y="0" font-size="8.85" font-weight="bold" text-anchor="middle" transform="translate(254.1 490.8) rotate(-90)">% Killing Response</text>
<line x1="335.3" y1="513.4" x2="335.3" y2="540.2" stroke="#ec5a48" stroke-width="1.0"/>
<line x1="329.8" y1="513.4" x2="340.8" y2="513.4" stroke="#ec5a48" stroke-width="1.0"/>
<line x1="329.8" y1="540.2" x2="340.8" y2="540.2" stroke="#ec5a48" stroke-width="1.0"/>
<line x1="425.2" y1="484.4" x2="425.2" y2="514.5" stroke="#ec5a48" stroke-width="1.0"/>
<line x1="419.95" y1="484.4" x2="430.45" y2="484.4" stroke="#ec5a48" stroke-width="1.0"/>
<line x1="419.95" y1="514.5" x2="430.45" y2="514.5" stroke="#ec5a48" stroke-width="1.0"/>
<circle cx="292.4" cy="543.4" r="1.95" fill="#a3a3a3" stroke="#111" stroke-width="1.0"/>
<circle cx="295.5" cy="543.4" r="1.95" fill="#a3a3a3" stroke="#111" stroke-width="1.0"/>
<circle cx="298.6" cy="543.4" r="1.95" fill="#a3a3a3" stroke="#111" stroke-width="1.0"/>
<circle cx="301.6" cy="543.4" r="1.95" fill="#a3a3a3" stroke="#111" stroke-width="1.0"/>
<circle cx="304.6" cy="543.4" r="1.95" fill="#a3a3a3" stroke="#111" stroke-width="1.0"/>
<circle cx="307.7" cy="543.4" r="1.95" fill="#a3a3a3" stroke="#111" stroke-width="1.0"/>
<circle cx="310.8" cy="543.4" r="1.95" fill="#a3a3a3" stroke="#111" stroke-width="1.0"/>
<circle cx="382.5" cy="543.3" r="1.95" fill="#a3a3a3" stroke="#111" stroke-width="1.0"/>
<circle cx="385.4" cy="542.5" r="1.95" fill="#a3a3a3" stroke="#111" stroke-width="1.0"/>
<circle cx="388.3" cy="543.3" r="1.95" fill="#a3a3a3" stroke="#111" stroke-width="1.0"/>
<circle cx="391.2" cy="543.3" r="1.95" fill="#a3a3a3" stroke="#111" stroke-width="1.0"/>
<circle cx="394.1" cy="543.3" r="1.95" fill="#a3a3a3" stroke="#111" stroke-width="1.0"/>
<circle cx="397.0" cy="543.3" r="1.95" fill="#a3a3a3" stroke="#111" stroke-width="1.0"/>
<circle cx="399.9" cy="543.3" r="1.95" fill="#a3a3a3" stroke="#111" stroke-width="1.0"/>
<circle cx="334.6" cy="503.5" r="1.95" fill="#e8452f" stroke="#111" stroke-width="1.0"/>
<circle cx="335.3" cy="517.1" r="1.95" fill="#e8452f" stroke="#111" stroke-width="1.0"/>
<circle cx="330.6" cy="526.4" r="1.95" fill="#e8452f" stroke="#111" stroke-width="1.0"/>
<circle cx="339.9" cy="525.7" r="1.95" fill="#e8452f" stroke="#111" stroke-width="1.0"/>
<circle cx="335.3" cy="532.0" r="1.95" fill="#e8452f" stroke="#111" stroke-width="1.0"/>
<circle cx="339.9" cy="539.0" r="1.95" fill="#e8452f" stroke="#111" stroke-width="1.0"/>
<circle cx="330.6" cy="543.2" r="1.95" fill="#e8452f" stroke="#111" stroke-width="1.0"/>
<circle cx="425.2" cy="476.7" r="1.95" fill="#e8452f" stroke="#111" stroke-width="1.0"/>
<circle cx="425.2" cy="484.9" r="1.95" fill="#e8452f" stroke="#111" stroke-width="1.0"/>
<circle cx="420.5" cy="498.4" r="1.95" fill="#e8452f" stroke="#111" stroke-width="1.0"/>
<circle cx="429.4" cy="497.7" r="1.95" fill="#e8452f" stroke="#111" stroke-width="1.0"/>
<circle cx="425.2" cy="504.2" r="1.95" fill="#e8452f" stroke="#111" stroke-width="1.0"/>
<circle cx="425.2" cy="514.5" r="1.95" fill="#e8452f" stroke="#111" stroke-width="1.0"/>
<circle cx="425.2" cy="519.4" r="1.95" fill="#e8452f" stroke="#111" stroke-width="1.0"/>
<polygon points="311.35,436.75 310.85,438.58 309.01,438.10 310.35,439.45 309.01,440.80 310.85,440.32 311.35,442.15 311.85,440.32 313.69,440.80 312.35,439.45 313.69,438.10 311.85,438.58" fill="#111" stroke="#111" stroke-width="0.35" stroke-linejoin="round"/>
<polygon points="317.25,436.75 316.75,438.58 314.91,438.10 316.25,439.45 314.91,440.80 316.75,440.32 317.25,442.15 317.75,440.32 319.59,440.80 318.25,439.45 319.59,438.10 317.75,438.58" fill="#111" stroke="#111" stroke-width="0.35" stroke-linejoin="round"/>
<line x1="297.2" y1="446.9" x2="330.9" y2="446.9" stroke="#111" stroke-width="1.9"/>
<polygon points="406.55,436.75 406.05,438.58 404.21,438.10 405.55,439.45 404.21,440.80 406.05,440.32 406.55,442.15 407.05,440.32 408.89,440.80 407.55,439.45 408.89,438.10 407.05,438.58" fill="#111" stroke="#111" stroke-width="0.35" stroke-linejoin="round"/>
<polygon points="412.45,436.75 411.95,438.58 410.11,438.10 411.45,439.45 410.11,440.80 411.95,440.32 412.45,442.15 412.95,440.32 414.79,440.80 413.45,439.45 414.79,438.10 412.95,438.58" fill="#111" stroke="#111" stroke-width="0.35" stroke-linejoin="round"/>
<line x1="392.5" y1="446.9" x2="425.4" y2="446.9" stroke="#111" stroke-width="1.9"/>
<line x1="504.4" y1="438.59999999999997" x2="504.4" y2="545.1999999999999" stroke="#111" stroke-width="1.35"/>
<line x1="503.59999999999997" y1="544.4" x2="663.5" y2="544.4" stroke="#111" stroke-width="1.35"/>
<line x1="499.79999999999995" y1="439.09999999999997" x2="504.4" y2="439.09999999999997" stroke="#111" stroke-width="1.35"/>
<text x="498.7" y="441.83599999999996" font-size="7.6" font-weight="bold" fill="#000" text-anchor="end" >500</text>
<line x1="499.79999999999995" y1="460.15999999999997" x2="504.4" y2="460.15999999999997" stroke="#111" stroke-width="1.35"/>
<text x="498.7" y="462.89599999999996" font-size="7.6" font-weight="bold" fill="#000" text-anchor="end" >400</text>
<line x1="499.79999999999995" y1="481.21999999999997" x2="504.4" y2="481.21999999999997" stroke="#111" stroke-width="1.35"/>
<text x="498.7" y="483.95599999999996" font-size="7.6" font-weight="bold" fill="#000" text-anchor="end" >300</text>
<line x1="499.79999999999995" y1="502.28" x2="504.4" y2="502.28" stroke="#111" stroke-width="1.35"/>
<text x="498.7" y="505.01599999999996" font-size="7.6" font-weight="bold" fill="#000" text-anchor="end" >200</text>
<line x1="499.79999999999995" y1="523.3399999999999" x2="504.4" y2="523.3399999999999" stroke="#111" stroke-width="1.35"/>
<text x="498.7" y="526.0759999999999" font-size="7.6" font-weight="bold" fill="#000" text-anchor="end" >100</text>
<line x1="499.79999999999995" y1="544.4" x2="504.4" y2="544.4" stroke="#111" stroke-width="1.35"/>
<text x="498.7" y="547.136" font-size="7.6" font-weight="bold" fill="#000" text-anchor="end" >0</text>
<line x1="541.4" y1="544.4" x2="541.4" y2="548.4" stroke="#111" stroke-width="1.4"/>
<line x1="625.6" y1="544.4" x2="625.6" y2="548.4" stroke="#111" stroke-width="1.4"/>
<text x="541.5" y="557.2" font-size="8.25" font-weight="bold" fill="#000" text-anchor="middle" >Pool 1 (NS4A)</text>
<text x="626.1" y="557.2" font-size="8.05" font-weight="bold" fill="#000" text-anchor="middle" xml:space="preserve">Pool  2 (NS4B)</text>
<text x="0" y="0" font-size="8.7" font-weight="bold" text-anchor="middle" transform="translate(480.9 485.0) rotate(-90)">GMFI OF CD69</text>
<line x1="557.6" y1="532.3" x2="557.6" y2="541.6" stroke="#ec5a48" stroke-width="1.0"/>
<line x1="552.25" y1="532.3" x2="562.95" y2="532.3" stroke="#ec5a48" stroke-width="1.0"/>
<line x1="641.8" y1="499.4" x2="641.8" y2="544.0" stroke="#ec5a48" stroke-width="1.0"/>
<line x1="636.75" y1="499.4" x2="646.8499999999999" y2="499.4" stroke="#ec5a48" stroke-width="1.0"/>
<circle cx="517.8" cy="544.4" r="1.95" fill="#a3a3a3" stroke="#111" stroke-width="1.0"/>
<circle cx="520.6" cy="544.4" r="1.95" fill="#a3a3a3" stroke="#111" stroke-width="1.0"/>
<circle cx="523.4" cy="544.4" r="1.95" fill="#a3a3a3" stroke="#111" stroke-width="1.0"/>
<circle cx="526.1" cy="544.4" r="1.95" fill="#a3a3a3" stroke="#111" stroke-width="1.0"/>
<circle cx="528.9" cy="544.4" r="1.95" fill="#a3a3a3" stroke="#111" stroke-width="1.0"/>
<circle cx="531.7" cy="544.4" r="1.95" fill="#a3a3a3" stroke="#111" stroke-width="1.0"/>
<circle cx="534.5" cy="544.4" r="1.95" fill="#a3a3a3" stroke="#111" stroke-width="1.0"/>
<circle cx="602.2" cy="544.4" r="1.95" fill="#a3a3a3" stroke="#111" stroke-width="1.0"/>
<circle cx="604.8" cy="544.4" r="1.95" fill="#a3a3a3" stroke="#111" stroke-width="1.0"/>
<circle cx="607.5" cy="544.4" r="1.95" fill="#a3a3a3" stroke="#111" stroke-width="1.0"/>
<circle cx="610.1" cy="544.4" r="1.95" fill="#a3a3a3" stroke="#111" stroke-width="1.0"/>
<circle cx="612.7" cy="544.4" r="1.95" fill="#a3a3a3" stroke="#111" stroke-width="1.0"/>
<circle cx="615.4" cy="544.4" r="1.95" fill="#a3a3a3" stroke="#111" stroke-width="1.0"/>
<circle cx="618.0" cy="544.4" r="1.95" fill="#a3a3a3" stroke="#111" stroke-width="1.0"/>
<circle cx="549.3" cy="544.4" r="1.95" fill="#e8452f" stroke="#111" stroke-width="1.0"/>
<circle cx="552.5" cy="544.4" r="1.95" fill="#e8452f" stroke="#111" stroke-width="1.0"/>
<circle cx="555.7" cy="544.4" r="1.95" fill="#e8452f" stroke="#111" stroke-width="1.0"/>
<circle cx="558.9" cy="544.4" r="1.95" fill="#e8452f" stroke="#111" stroke-width="1.0"/>
<circle cx="562.1" cy="544.4" r="1.95" fill="#e8452f" stroke="#111" stroke-width="1.0"/>
<circle cx="565.3" cy="544.4" r="1.95" fill="#e8452f" stroke="#111" stroke-width="1.0"/>
<circle cx="557.3" cy="521.6" r="1.95" fill="#e8452f" stroke="#111" stroke-width="1.0"/>
<circle cx="633.3" cy="544.4" r="1.95" fill="#e8452f" stroke="#111" stroke-width="1.0"/>
<circle cx="637.5" cy="544.4" r="1.95" fill="#e8452f" stroke="#111" stroke-width="1.0"/>
<circle cx="641.7" cy="544.4" r="1.95" fill="#e8452f" stroke="#111" stroke-width="1.0"/>
<circle cx="645.9" cy="544.4" r="1.95" fill="#e8452f" stroke="#111" stroke-width="1.0"/>
<circle cx="650.1" cy="544.4" r="1.95" fill="#e8452f" stroke="#111" stroke-width="1.0"/>
<circle cx="641.8" cy="461.6" r="1.95" fill="#e8452f" stroke="#111" stroke-width="1.0"/>
<circle cx="641.8" cy="527.5" r="1.95" fill="#e8452f" stroke="#111" stroke-width="1.0"/>
</svg></body></html>
